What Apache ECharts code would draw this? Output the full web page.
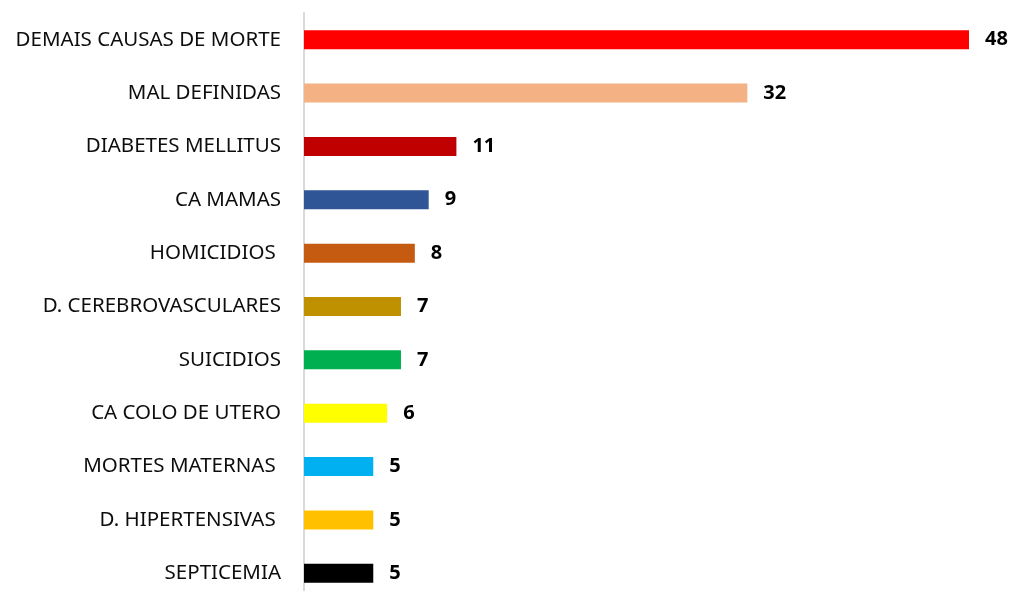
<!DOCTYPE html>
<html>
<head>
<meta charset="utf-8">
<script src="https://cdn.jsdelivr.net/npm/echarts@6/dist/echarts.min.js"></script>
<style>
  html, body { margin: 0; padding: 0; background: #fff; }
  #chart { width: 1009px; height: 591px; }
</style>
</head>
<body>
<div id="chart"></div>
<script>
// causas de morte, de cima para baixo
var categories = ['DEMAIS CAUSAS DE MORTE', 'MAL DEFINIDAS', 'DIABETES MELLITUS', 'CA MAMAS', 'HOMICIDIOS ',
  'D. CEREBROVASCULARES', 'SUICIDIOS', 'CA COLO DE UTERO', 'MORTES MATERNAS ', 'D. HIPERTENSIVAS ', 'SEPTICEMIA']
var values = [48, 32, 11, 9, 8, 7, 7, 6, 5, 5, 5]
var barColors = ['#FF0000', '#F4B183', '#C00000', '#2F5597', '#C55A11', '#BF9000', '#00B050', '#FFFF00',
  '#00B0F0', '#FFC000', '#000000']

var chart = echarts.init(document.getElementById('chart'))

var option = {
  backgroundColor: '#ffffff',
  animation: false,
  grid: {
    left: 304,
    right: 40,
    top: 13,
    height: 587,
    outerBoundsMode: 'none',
    containLabel: false
  },
  xAxis: {
    type: 'value',
    min: 0,
    max: 48,
    show: false
  },
  yAxis: {
    type: 'category',
    inverse: true,
    data: categories,
    axisTick: { show: false },
    axisLine: {
      show: true,
      lineStyle: { color: '#d9d9d9', width: 2 }
    },
    axisLabel: {
      margin: 23,
      color: '#0d0d0d',
      fontSize: 20.5,
      fontFamily: 'Noto Sans'
    },
    splitLine: { show: false }
  },
  series: [{
    type: 'bar',
    barWidth: 19,
    data: values.map(function (v, i) {
      return { value: v, itemStyle: { color: barColors[i] } }
    }),
    label: {
      show: true,
      position: 'right',
      distance: 16,
      color: '#000',
      fontWeight: 'bold',
      fontSize: 20,
      fontFamily: 'Noto Sans'
    }
  }]
}

chart.setOption(option)
</script>
</body>
</html>
